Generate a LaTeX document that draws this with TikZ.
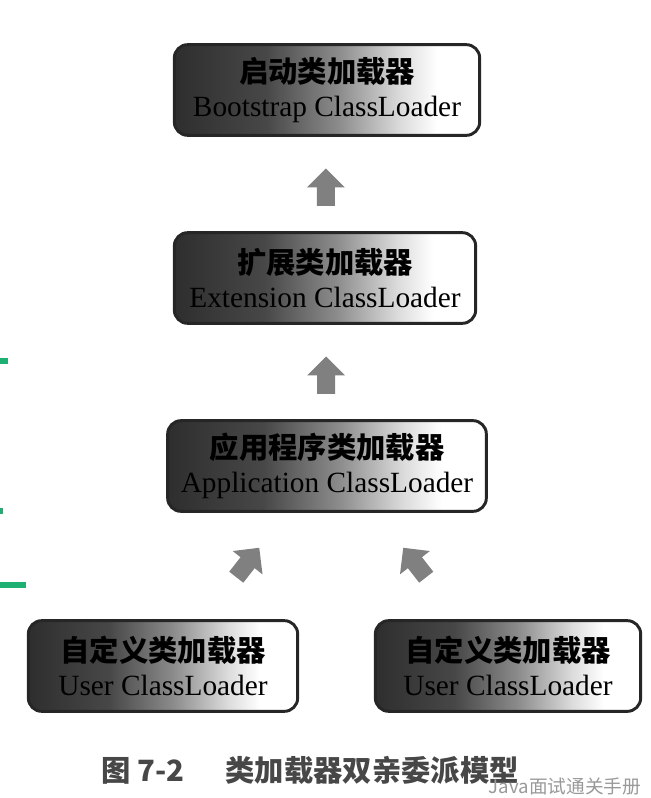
\documentclass[tikz,border=0pt]{standalone}
\usepackage{fontspec}
\setmainfont{Liberation Serif}
\newfontfamily\cjk{Noto Sans CJK SC}
\usetikzlibrary{shapes.arrows,calc}

\definecolor{markgreen}{RGB}{30,175,115}
\pgfdeclarehorizontalshading{fade}{100bp}{color(0bp)=(black!82); color(25bp)=(black!82);
  color(40bp)=(black!72); color(52bp)=(black!45); color(62bp)=(black!14);
  color(68bp)=(white); color(100bp)=(white)}

\tikzstyle{loader}=[shape=rectangle,rounded corners=10pt,draw=black!85,line width=2.2pt,
  shading=fade,minimum height=68pt,inner sep=2pt,align=center,
  font=\fontsize{22}{25}\selectfont]
\tikzstyle{up}=[shape=single arrow,fill=black!50,draw=none,minimum height=28pt,
  single arrow head extend=7.5pt,inner sep=6.5pt]
\def\frac{0.58}

\begin{document}
\begin{tikzpicture}[x=0.75pt,y=-0.75pt]
\useasboundingbox (0,0) rectangle (650,798);
% boxes
\node[loader,minimum width=229pt] (boot) at (327,90) {{\cjk\bfseries 启动类加载器}\\Bootstrap ClassLoader};
\node[loader,minimum width=226pt] (ext) at (325,278) {{\cjk\bfseries 扩展类加载器}\\Extension ClassLoader};
\node[loader,minimum width=239pt] (app) at (327,466) {{\cjk\bfseries 应用程序类加载器}\\Application ClassLoader};
\node[loader,minimum width=202pt] (user_1) at (163,666) {{\cjk\bfseries 自定义类加载器}\\User ClassLoader};
\node[loader,minimum width=199pt] (user_2) at (508,666) {{\cjk\bfseries 自定义类加载器}\\User ClassLoader};

% arrows
\node[up,rotate=90] (a_1) at ($(boot.south)!\frac!(ext.north)$) {};
\node[up,rotate=90] (a_2) at ($(ext.south)!\frac!(app.north)$) {};
\node[up,rotate=52] (a_3) at ($(user_1.north)!0.5!(app.south)$) {};
\node[up,rotate=128] (a_4) at ($(user_2.north)!0.5!(app.south)$) {};

% caption
\node[text=black!72,font=\cjk\bfseries\fontsize{22}{26}\selectfont] (cap) at (310,770) {图 7-2\hspace{1.4em}类加载器双亲委派模型};
\node[anchor=east,text=black!40,font=\cjk\fontsize{14}{16}\selectfont] (mark) at (646,786) {Java面试通关手册};

% green marks
\draw[markgreen,line width=4pt] (0,361) -- (8,361);
\draw[markgreen,line width=4pt] (0,511) -- (3,511);
\draw[markgreen,line width=4pt] (0,585) -- (26,585);
\end{tikzpicture}
\end{document}
